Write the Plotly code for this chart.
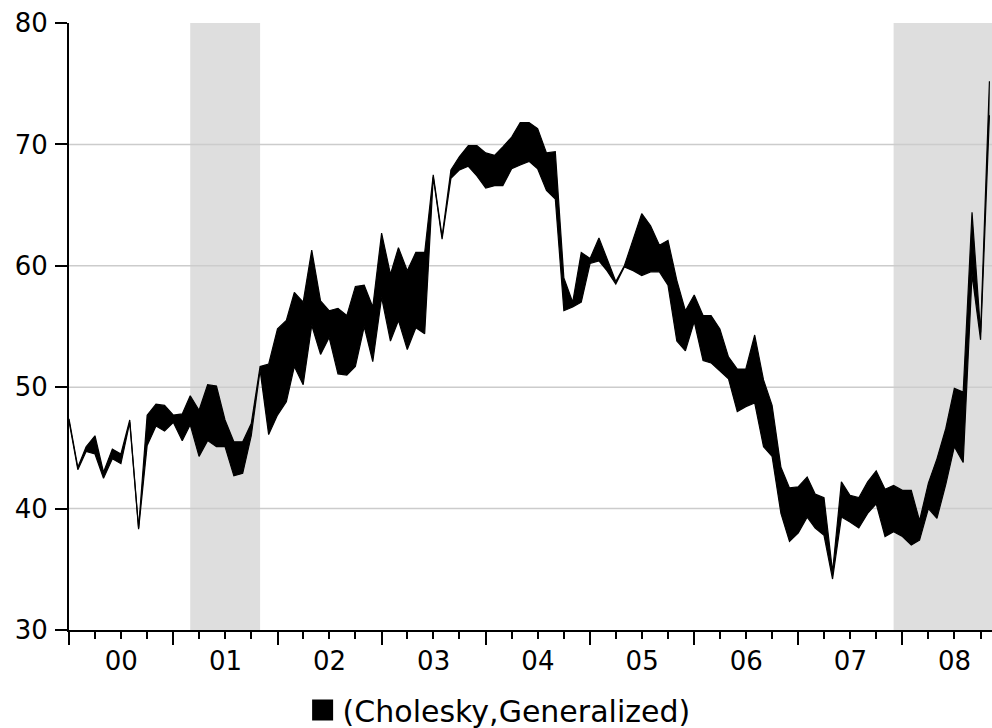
import plotly.graph_objects as go
import pandas as pd

# monthly band bounds, 2000M01 onwards (upper / lower of the two estimates)
band_high = [
    47.4, 43.4, 45.1, 46.0, 43.0, 44.9, 44.5, 47.3, 38.4, 47.7, 48.6, 48.5,
    47.7, 47.8, 49.3, 48.1, 50.2, 50.1, 47.3, 45.5, 45.5, 47.0, 51.7, 51.9,
    54.8, 55.5, 57.8, 57.0, 61.3, 57.1, 56.3, 56.5, 55.9, 58.3, 58.4, 56.6,
    62.7, 59.3, 61.5, 59.6, 61.1, 61.1, 67.5, 62.4, 67.9, 69.0, 69.9, 69.9,
    69.3, 69.1, 69.8, 70.6, 71.8, 71.8, 71.3, 69.3, 69.4, 59.0, 57.0, 61.1,
    60.6, 62.3, 60.6, 58.7, 60.0, 62.1, 64.3, 63.3, 61.7, 62.1, 58.8, 56.3,
    57.6, 55.9, 55.9, 54.8, 52.5, 51.5, 51.5, 54.3, 50.6, 48.5, 43.4, 41.7,
    41.8, 42.6, 41.2, 40.9, 34.8, 42.2, 41.1, 40.9, 42.2, 43.1, 41.6, 41.9,
    41.5, 41.5, 39.0, 42.1, 44.1, 46.6, 49.9, 49.6, 64.4, 54.5, 75.2,
]
band_low = [
    47.2, 43.2, 44.7, 44.5, 42.5, 44.1, 43.7, 47.1, 38.3, 45.2, 46.8, 46.4,
    47.1, 45.6, 46.9, 44.3, 45.6, 45.1, 45.1, 42.7, 42.9, 46.0, 51.4, 46.1,
    47.7, 48.8, 51.7, 50.2, 55.1, 52.7, 54.1, 51.1, 51.0, 51.7, 55.0, 52.1,
    57.4, 53.8, 55.5, 53.1, 54.9, 54.4, 67.3, 62.2, 67.2, 67.9, 68.2, 67.4,
    66.4, 66.6, 66.6, 68.0, 68.3, 68.6, 68.0, 66.2, 65.5, 56.3, 56.6, 57.0,
    60.2, 60.4, 59.6, 58.5, 59.9, 59.6, 59.2, 59.5, 59.5, 58.4, 53.8, 53.0,
    55.4, 52.2, 52.0, 51.3, 50.7, 48.0, 48.4, 48.7, 45.1, 44.3, 39.6, 37.3,
    38.0, 39.3, 38.4, 37.8, 34.2, 39.3, 38.9, 38.4, 39.6, 40.4, 37.7, 38.1,
    37.7, 37.0, 37.4, 40.0, 39.2, 42.0, 45.1, 43.8, 59.3, 53.9, 72.4,
]
dates = pd.date_range("2000-01-01", periods=len(band_high), freq="MS")

# shaded recession periods
rec_start = ["2001-03-01", "2007-12-01"]
rec_end = ["2001-11-01", "2008-11-10"]

grid_levels = [40, 50, 60, 70]
x_end = "2008-11-10"
font = "DejaVu Sans"

fig = go.Figure()

fig.add_trace(go.Scatter(
    x=dates, y=band_low, mode="lines",
    line=dict(color="black", width=1.2),
    showlegend=False, hoverinfo="skip"
))
fig.add_trace(go.Scatter(
    x=dates, y=band_high, mode="lines",
    line=dict(color="black", width=1.2),
    fill="tonexty", fillcolor="black",
    showlegend=False
))
# legend entry (legend markers are capped at 16px, the outline makes it bigger)
fig.add_trace(go.Scatter(
    x=[None], y=[None], mode="markers",
    marker=dict(symbol="square", size=24, color="black",
                line=dict(color="black", width=5)),
    name="(Cholesky,Generalized)"
))

for x0, x1 in zip(rec_start, rec_end):
    fig.add_vrect(x0=x0, x1=x1, fillcolor="#dedede", opacity=1,
                  line_width=0, layer="below")

for lv in grid_levels:
    fig.add_hline(y=lv, line=dict(color="#cccccc", width=1.5), layer="below")

fig.update_layout(
    width=992,
    height=728,
    margin=dict(l=69, r=0, t=23, b=98, autoexpand=False),
    plot_bgcolor="white",
    paper_bgcolor="white",
    font=dict(family=font, color="black"),
    showlegend=True,
    legend=dict(
        orientation="h",
        x=0.466, xanchor="center",
        y=-0.132, yanchor="middle",
        font=dict(size=30, family=font, color="black"),
        bgcolor="rgba(0,0,0,0)",
    ),
    xaxis=dict(
        type="date",
        range=[dates[0], x_end],
        tick0="2000-01-01",
        dtick="M12",
        tickformat="%y",
        ticklabelmode="period",
        ticks="outside",
        ticklen=13,
        tickwidth=1.5,
        tickcolor="black",
        showline=True,
        linecolor="black",
        linewidth=2,
        showgrid=False,
        zeroline=False,
        automargin=False,
        ticklabelstandoff=-6,
        tickfont=dict(size=26, family=font, color="black"),
        minor=dict(dtick="M3", ticks="outside", ticklen=7,
                   tickwidth=1.5, tickcolor="black", showgrid=False),
    ),
    yaxis=dict(
        range=[30, 80],
        dtick=10,
        ticks="outside",
        ticklen=12,
        tickwidth=1.5,
        tickcolor="black",
        showline=True,
        linecolor="black",
        linewidth=2,
        showgrid=False,
        zeroline=False,
        automargin=False,
        ticklabelstandoff=2,
        tickfont=dict(size=26, family=font, color="black"),
    ),
)

# drop the default page margin so the figure fills the window
fig.write_html("out.html",
               config={"displayModeBar": False},
               post_script="document.body.style.margin='0px';"
                           "document.body.style.overflow='hidden';")
